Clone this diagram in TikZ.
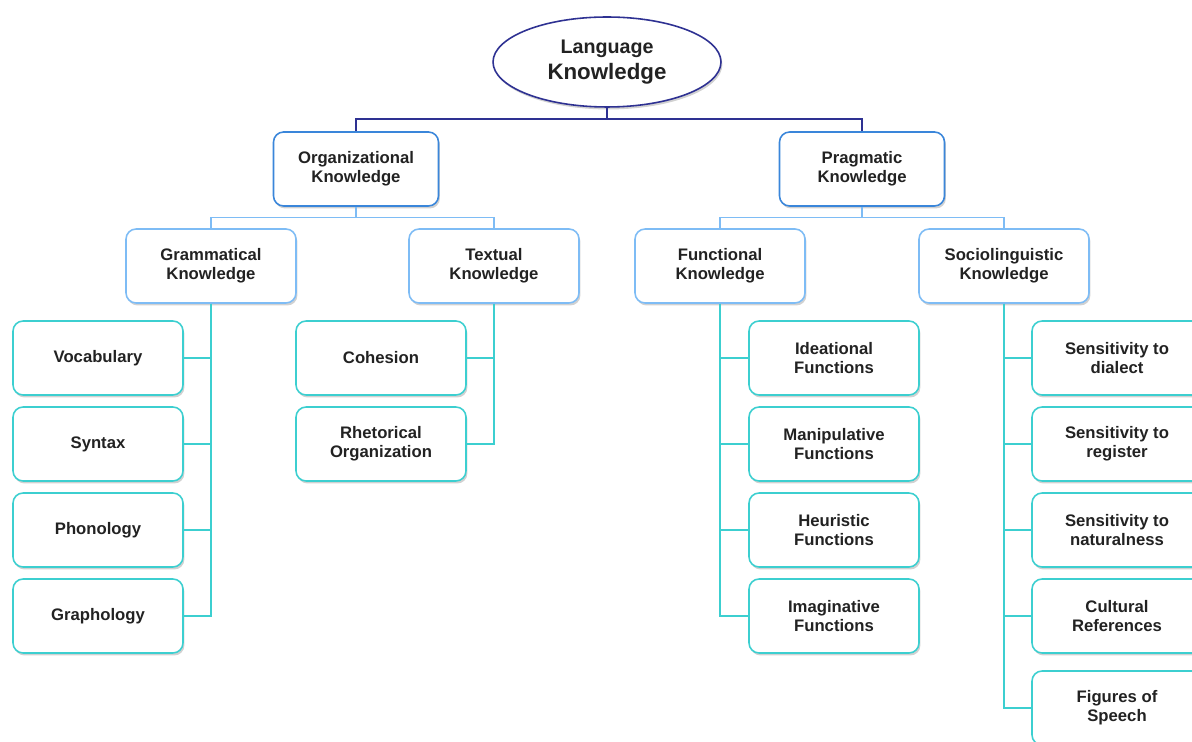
\documentclass[tikz,border=0pt]{standalone}
\usepackage{fontspec}
\setmainfont{Liberation Sans}
\usepackage{xcolor}
\usepackage{tikz}
\usetikzlibrary{shapes.geometric,shadows}

\definecolor{rootblue}{HTML}{2E3192}
\definecolor{lvlblue}{HTML}{3A86DA}
\definecolor{subblue}{HTML}{7EBCF5}
\definecolor{leafteal}{HTML}{3CCFD0}
\definecolor{txtgray}{HTML}{222222}

\begin{document}
\begin{tikzpicture}[
    x=0.02cm, y=-0.02cm,
    font=\fontsize{9.5pt}{11pt}\selectfont\bfseries, text=txtgray,
    shade/.style={drop shadow={shadow xshift=0.8pt, shadow yshift=-1.4pt,
      opacity=0.18, fill=black}},
    box/.style={draw, fill=white, rounded corners=0.2cm, line width=0.9pt,
      minimum height=1.48cm, align=center, inner sep=2pt, shade},
    root/.style={ellipse, draw=rootblue, fill=white, line width=0.9pt,
      minimum width=4.56cm, minimum height=1.8cm, inner sep=0pt, align=center, shade},
    top/.style={box, draw=lvlblue, minimum width=3.3cm},
    sub/.style={box, draw=subblue, minimum width=3.4cm},
    leaf/.style={box, draw=leafteal, minimum width=3.4cm},
    rl/.style={draw=rootblue, line width=0.7pt},
    sl/.style={draw=subblue, line width=0.7pt},
    ll/.style={draw=leafteal, line width=0.7pt},
  ]
    \useasboundingbox (0,0) rectangle (1192,742);
    \clip (0,0) rectangle (1192,742);
    % Root and first level
    \node[root] (lang) at (607,62) {\fontsize{11.2pt}{12pt}\selectfont Language\\[2pt]
                                    \fontsize{12.7pt}{14pt}\selectfont Knowledge};
    \node[top]  (org)  at (356,169) {Organizational\\Knowledge};
    \node[top]  (prag) at (862,169) {Pragmatic\\Knowledge};
    % Second level
    \node[sub]  (gram) at (211,266)  {Grammatical\\Knowledge};
    \node[sub]  (text) at (494,266)  {Textual\\Knowledge};
    \node[sub]  (func) at (720,266)  {Functional\\Knowledge};
    \node[sub]  (soc)  at (1004,266) {Sociolinguistic\\Knowledge};
    % Leaves: grammatical
    \node[leaf] (voc)  at (98,358) {Vocabulary};
    \node[leaf] (syn)  at (98,444) {Syntax};
    \node[leaf] (pho)  at (98,530) {Phonology};
    \node[leaf] (gra)  at (98,616) {Graphology};
    % Leaves: textual
    \node[leaf] (coh)  at (381,358) {Cohesion};
    \node[leaf] (rhet) at (381,444) {Rhetorical\\Organization};
    % Leaves: functional
    \node[leaf] (idea) at (834,358) {Ideational\\Functions};
    \node[leaf] (mani) at (834,444) {Manipulative\\Functions};
    \node[leaf] (heur) at (834,530) {Heuristic\\Functions};
    \node[leaf] (imag) at (834,616) {Imaginative\\Functions};
    % Leaves: sociolinguistic
    \node[leaf] (dial) at (1117,358) {Sensitivity to\\dialect};
    \node[leaf] (regi) at (1117,444) {Sensitivity to\\register};
    \node[leaf] (natu) at (1117,530) {Sensitivity to\\naturalness};
    \node[leaf] (cult) at (1117,616) {Cultural\\References};
    \node[leaf] (figs) at (1117,708) {Figures of\\Speech};
    % Connectors
    \coordinate (bus) at (607,119);
    \draw[rl] (lang.south) -- (bus) -| (org.north);
    \draw[rl] (bus) -| (prag.north);
    \draw[sl] (org.south) -- ++(0,11) -| (gram.north);
    \draw[sl] (org.south) ++(0,11) -| (text.north);
    \draw[sl] (prag.south) -- ++(0,11) -| (func.north);
    \draw[sl] (prag.south) ++(0,11) -| (soc.north);
    \foreach \n in {voc,syn,pho,gra} \draw[ll] (gram.south) |- (\n.east);
    \foreach \n in {coh,rhet} \draw[ll] (text.south) |- (\n.east);
    \foreach \n in {idea,mani,heur,imag} \draw[ll] (func.south) |- (\n.west);
    \foreach \n in {dial,regi,natu,cult,figs} \draw[ll] (soc.south) |- (\n.west);
\end{tikzpicture}
\end{document}
